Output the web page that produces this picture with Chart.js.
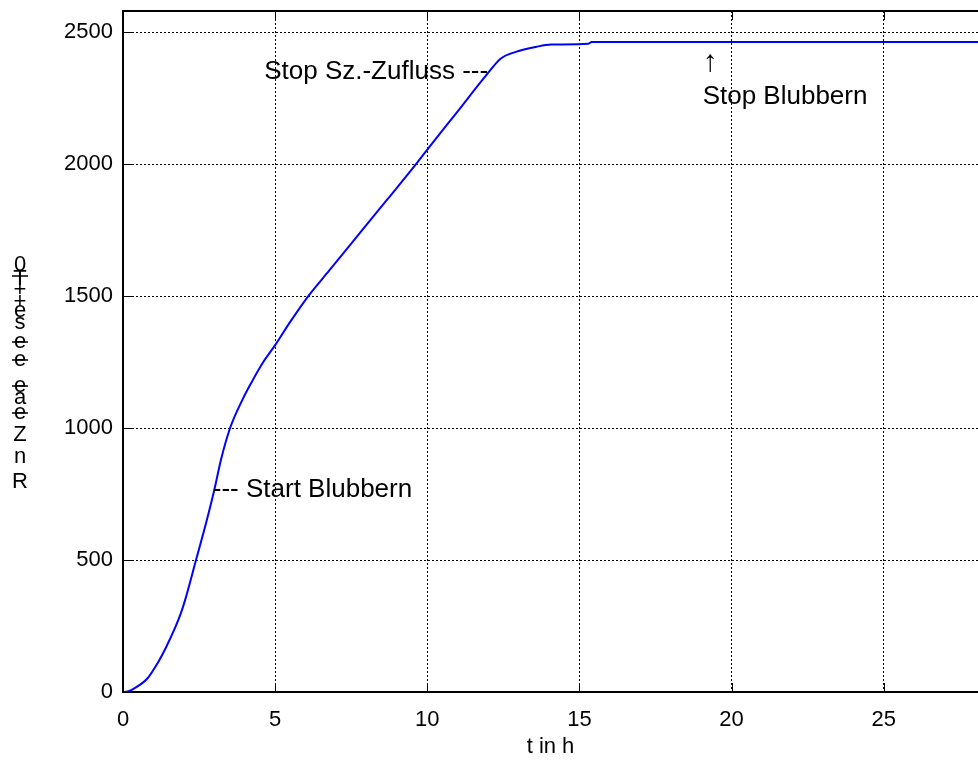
<!DOCTYPE html>
<html>
<head>
<meta charset="utf-8">
<script src="https://cdn.jsdelivr.net/npm/chart.js@4/dist/chart.umd.min.js"></script>
<style>
  html, body { margin: 0; padding: 0; background: #fff; overflow: hidden; }
  #wrap { width: 978px; height: 761px; }
</style>
</head>
<body>
<div id="wrap"><canvas id="c" width="978" height="761"></canvas></div>
<script>
// ---- data ----
const hours = [0, 0.15, 0.36, 0.8, 1.13, 1.4, 1.68, 1.9, 2.04, 2.4, 2.73, 3.0, 3.22, 3.52, 3.92, 4.21, 4.6, 5.0, 5.5, 6.09, 6.78, 7.8, 8.7, 9.63, 10.0, 11.0, 11.94, 12.42, 12.91, 13.57, 14.07, 15.3, 15.4, 28.1];
const cellCount = [0, 2, 13, 51, 108, 166, 235, 298, 348, 500, 640, 765, 880, 1000, 1106, 1170, 1248, 1314, 1403, 1500, 1597, 1741, 1868, 2000, 2055, 2200, 2337, 2400, 2425, 2444, 2453, 2456, 2463, 2463];
const xTickValues = [0, 5, 10, 15, 20, 25];
const yTickValues = [0, 500, 1000, 1500, 2000, 2500];
const xTitle = 't in h';
const yTitleGlyphs = ['0', 'T', '+', '+', 'e', 's', 'e', 'e', 'e', 'a', 'e', 'Z', 'n', 'R'];
const notes = [
  { text: '--- Start Blubbern', t: 2.95, v: 765, align: 'left' },
  { text: 'Stop Sz.-Zufluss ---', t: 12.0, v: 2348, align: 'right' },
  { text: '\u2191', t: 19.05, v: 2383, align: 'left' },
  { text: 'Stop Blubbern', t: 19.05, v: 2254, align: 'left' }
];

const FONT = '"Liberation Sans", Arial, Helvetica, sans-serif';

// layout of the y-title glyphs (vertical positions in px, matching the reference)
const yTitleLayout = [265, 279, 290, 302, 311, 323, 342, 360, 386, 398, 413, 435, 457, 482];
const yTitleBars = [276, 342, 360, 386, 413];

const frameAndTicks = {
  id: 'frameAndTicks',
  afterDraw(chart) {
    const { ctx, chartArea: a, scales: { x, y } } = chart;
    ctx.save();
    ctx.strokeStyle = '#000';
    // top border
    ctx.lineWidth = 2;
    ctx.beginPath();
    ctx.moveTo(a.left - 1, a.top);
    ctx.lineTo(a.right, a.top);
    ctx.stroke();
    // inward tick marks
    ctx.lineWidth = 1;
    ctx.beginPath();
    xTickValues.forEach(v => {
      const px = Math.round(x.getPixelForValue(v)) + 0.5;
      ctx.moveTo(px, a.bottom); ctx.lineTo(px, a.bottom - 9);
      ctx.moveTo(px, a.top); ctx.lineTo(px, a.top + 9);
    });
    yTickValues.forEach(v => {
      const py = Math.round(y.getPixelForValue(v)) + 0.5;
      ctx.moveTo(a.left, py); ctx.lineTo(a.left + 9, py);
    });
    ctx.stroke();

    // y title (stacked glyphs, as in the reference)
    ctx.fillStyle = '#000';
    ctx.font = '22px ' + FONT;
    ctx.textAlign = 'center';
    ctx.textBaseline = 'middle';
    yTitleGlyphs.forEach((g, i) => ctx.fillText(g, 20, yTitleLayout[i]));
    ctx.lineWidth = 1.5;
    ctx.beginPath();
    yTitleBars.forEach(py => { ctx.moveTo(12, py); ctx.lineTo(28, py); });
    ctx.stroke();

    // annotations anchored to data coordinates
    notes.forEach(n => {
      ctx.font = (n.text === '\u2191' ? '30px ' : '26px ') + FONT;
      ctx.textAlign = n.align;
      ctx.fillText(n.text, x.getPixelForValue(n.t), y.getPixelForValue(n.v));
    });
    ctx.restore();
  }
};

new Chart(document.getElementById('c'), {
  type: 'line',
  data: {
    datasets: [{
      data: hours.map((t, i) => ({ x: t, y: cellCount[i] })),
      borderColor: '#0000ff',
      borderWidth: 2,
      pointRadius: 0,
      cubicInterpolationMode: 'monotone',
      fill: false
    }]
  },
  options: {
    responsive: false,
    animation: false,
    events: [],
    layout: { padding: { top: 11, right: 0, left: 0, bottom: 0 } },
    plugins: { legend: { display: false }, tooltip: { enabled: false } },
    scales: {
      x: {
        type: 'linear',
        min: 0,
        max: 28.1,
        afterFit(s) { s.height = 69; s.paddingLeft = 0; s.paddingRight = 0; },
        afterBuildTicks(s) { s.ticks = xTickValues.map(v => ({ value: v })); },
        ticks: { font: { size: 22, family: FONT }, color: '#000', padding: 15, maxRotation: 0, callback: v => String(v) },
        grid: { color: '#000', lineWidth: 1, drawTicks: false },
        border: { display: true, color: '#000', width: 2, dash: [2, 2] },
        title: { display: true, text: xTitle, color: '#000', font: { size: 22, family: FONT }, padding: { top: 0, bottom: 1 } }
      },
      y: {
        min: 0,
        max: 2580,
        afterFit(s) { s.width = 123; s.paddingTop = 0; s.paddingBottom = 0; },
        afterBuildTicks(s) { s.ticks = yTickValues.map(v => ({ value: v })); },
        ticks: { font: { size: 22, family: FONT }, color: '#000', padding: 10, callback: v => String(v) },
        grid: { color: '#000', lineWidth: 1, drawTicks: false },
        border: { display: true, color: '#000', width: 2, dash: [2, 2] }
      }
    }
  },
  plugins: [frameAndTicks]
});
</script>
</body>
</html>
